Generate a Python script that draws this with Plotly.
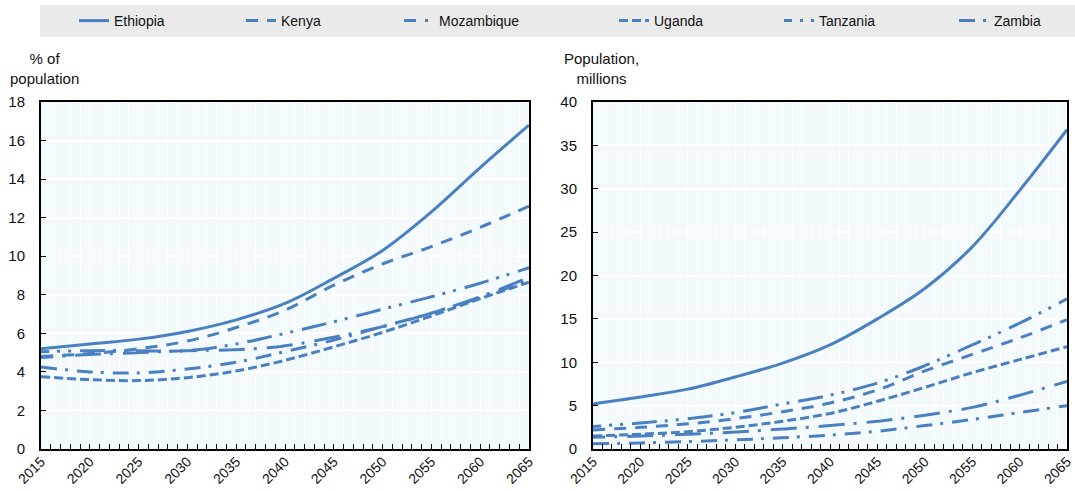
import plotly.graph_objects as go

years = [2015, 2020, 2025, 2030, 2035, 2040, 2045, 2050, 2055, 2060, 2065]
countries = ["Ethiopia", "Kenya", "Mozambique", "Uganda", "Tanzania", "Zambia"]

# Left panel: % of population
share_ethiopia = [5.2, 5.45, 5.7, 6.1, 6.7, 7.55, 8.85, 10.3, 12.3, 14.6, 16.8]
share_kenya = [4.8, 4.95, 5.2, 5.6, 6.3, 7.2, 8.5, 9.6, 10.5, 11.5, 12.6]
share_mozambique = [4.75, 4.9, 5.0, 5.1, 5.15, 5.35, 5.8, 6.35, 7.05, 7.9, 8.9]
share_uganda = [3.75, 3.6, 3.55, 3.7, 4.05, 4.6, 5.3, 6.05, 6.9, 7.8, 8.65]
share_tanzania = [5.05, 5.1, 5.1, 5.1, 5.45, 6.0, 6.6, 7.25, 7.9, 8.6, 9.4]
share_zambia = [4.25, 4.0, 3.95, 4.15, 4.5, 5.05, 5.65, 6.35, 7.05, 7.85, 8.75]

# Right panel: population, millions
pop_ethiopia = [5.2, 6.0, 6.9, 8.3, 9.9, 12.0, 15.0, 18.5, 23.3, 29.8, 36.8]
pop_kenya = [2.2, 2.5, 2.9, 3.5, 4.3, 5.3, 6.8, 9.0, 10.9, 12.8, 14.9]
pop_mozambique = [1.35, 1.5, 1.7, 1.95, 2.3, 2.7, 3.2, 3.9, 4.8, 6.2, 7.8]
pop_uganda = [1.5, 1.7, 2.0, 2.5, 3.2, 4.1, 5.5, 7.1, 8.8, 10.3, 11.8]
pop_tanzania = [2.6, 3.0, 3.5, 4.2, 5.2, 6.2, 7.6, 9.6, 12.0, 14.5, 17.3]
pop_zambia = [0.6, 0.7, 0.85, 1.05, 1.3, 1.6, 2.05, 2.7, 3.4, 4.2, 5.0]

shares = [share_ethiopia, share_kenya, share_mozambique, share_uganda, share_tanzania, share_zambia]
pops = [pop_ethiopia, pop_kenya, pop_mozambique, pop_uganda, pop_tanzania, pop_zambia]

color = "#4A80C2"
dashes = {
    "Ethiopia": "solid",
    "Kenya": "12px,9px",
    "Mozambique": "12px,9px,3px,10px,14px,0px",
    "Uganda": "9px,4px",
    "Tanzania": "8px,8px,3px,8px,3px,9px,17px,0px",
    "Zambia": "16px,8px,3px,9px",
}
# where each legend entry's text begins (px from left of the figure)
legend_text_x = [115, 282, 440, 655, 820, 995]

W, H = 1075, 491
ml, mr, mt, mb = 41, 8, 102, 42
pw = W - ml - mr
ph = H - mt - mb

fig = go.Figure()
legend_layouts = {}
font = dict(family="Liberation Sans, Arial, sans-serif", size=15, color="#111111")
xfont = dict(family="Liberation Sans, Arial, sans-serif", size=14, color="#111111")
lfont = dict(family="Liberation Sans, Arial, sans-serif", size=14, color="#111111")
for i, (name, s, p) in enumerate(zip(countries, shares, pops)):
    lg = "legend" if i == 0 else f"legend{i + 1}"
    fig.add_trace(go.Scatter(x=years, y=s, mode="lines", name=name, line_shape="spline",
                             line=dict(color=color, width=3, dash=dashes[name]),
                             xaxis="x", yaxis="y", showlegend=True, legend=lg))
    fig.add_trace(go.Scatter(x=years, y=p, mode="lines", name=name, line_shape="spline",
                             line=dict(color=color, width=3, dash=dashes[name]),
                             xaxis="x2", yaxis="y2", showlegend=False))
    legend_layouts[lg] = dict(orientation="h", x=(legend_text_x[i] - 41 - ml) / pw, xanchor="left",
                              y=1 + (mt - 21) / ph, yanchor="middle",
                              bgcolor="rgba(0,0,0,0)", font=lfont)

xcommon = dict(range=[2015, 2065], tick0=2015, dtick=5, tickangle=-45,
               ticks="inside", ticklen=5, tickcolor="black", tickwidth=1,
               showline=True, linecolor="black", linewidth=2, mirror=True,
               showgrid=True, gridcolor="white", gridwidth=1, zeroline=False,
               minor=dict(dtick=1, tick0=2015, ticks="inside", ticklen=5, tickcolor="black",
                          showgrid=True, gridcolor="white", gridwidth=1),
               tickfont=xfont, fixedrange=True, automargin=False, ticklabeloverflow="allow",
               ticklabelstandoff=-3)
ycommon = dict(ticks="inside", ticklen=5, tickcolor="black",
               showline=True, linecolor="black", linewidth=2, mirror=True,
               showgrid=True, gridcolor="white", gridwidth=1.5, zeroline=False,
               tickfont=font, automargin=False, ticklabelstandoff=11)

fig.update_layout(
    width=W, height=H,
    margin=dict(l=ml, r=mr, t=mt, b=mb, autoexpand=False),
    paper_bgcolor="white",
    plot_bgcolor="#F3FAFD",
    font=font,
    xaxis=dict(domain=[0, 488 / pw], anchor="y", **xcommon),
    yaxis=dict(domain=[0, 1], anchor="x", range=[0, 18], dtick=2, **ycommon),
    xaxis2=dict(domain=[(593 - ml) / pw, 1], anchor="y2", **xcommon),
    yaxis2=dict(domain=[0, 1], anchor="x2", range=[0, 40], dtick=5, **ycommon),
    shapes=[dict(type="rect", xref="paper", yref="paper", x0=-1 / pw, x1=1 + mr / pw,
                 y0=1 + (mt - 37) / ph, y1=1 + (mt - 5) / ph,
                 fillcolor="#EAEAEA", line=dict(width=0), layer="below")],
    annotations=[
        dict(text="% of<br>population", xref="paper", yref="paper", x=(44 - ml) / pw, y=1 + (mt - 68) / ph,
             xanchor="center", yanchor="middle", showarrow=False, font=font, align="center"),
        dict(text="Population,<br>millions", xref="paper", yref="paper", x=(601 - ml) / pw, y=1 + (mt - 68) / ph,
             xanchor="center", yanchor="middle", showarrow=False, font=font, align="center"),
    ],
    **legend_layouts,
)

fig.write_html("out.html", config={"displayModeBar": False},
               post_script="document.body.style.margin='0';document.body.style.overflow='hidden';")
